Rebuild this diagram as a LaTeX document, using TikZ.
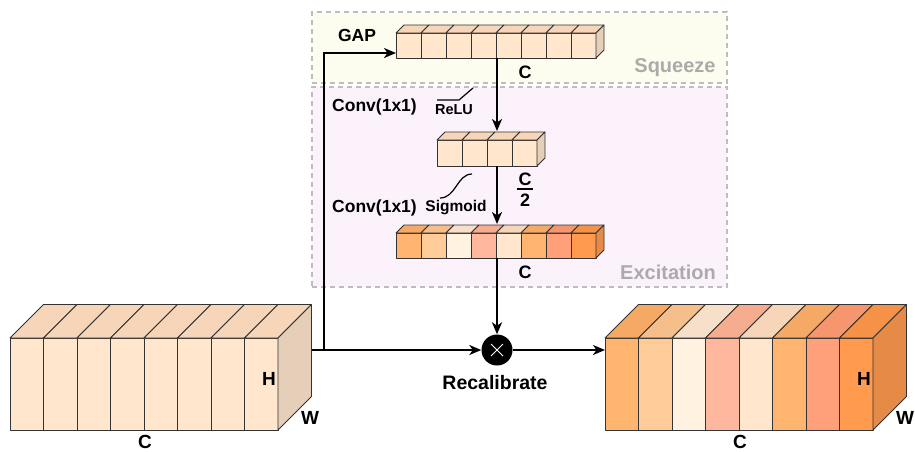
\documentclass[tikz,border=0pt]{standalone}
\usepackage{fontspec}
\setmainfont{Liberation Sans}
\usetikzlibrary{arrows.meta,fit}
\definecolor{lc}{HTML}{FFE6CC}
\definecolor{sa}{HTML}{FFB570}
\definecolor{sb}{HTML}{FFCC99}
\definecolor{sc}{HTML}{FFF2E0}
\definecolor{sd}{HTML}{FFB89E}
\definecolor{se}{HTML}{FFE6CC}
\definecolor{sf}{HTML}{FFB570}
\definecolor{sg}{HTML}{FFA07A}
\definecolor{sh}{HTML}{FF9A4F}
\definecolor{topmix}{HTML}{A53C04}
\definecolor{sqfill}{HTML}{FCFCEF}
\definecolor{exfill}{HTML}{FCF2FC}
\definecolor{boxgray}{HTML}{BDBDBD}
\definecolor{labgray}{HTML}{ABABAB}
\newcommand\mycube[9]{%
  \foreach \c [count=\i from 0] in {#9}{%
    \pgfmathsetmacro\xa{#1+\i*#3/#6}%
    \pgfmathsetmacro\xb{#1+(\i+1)*#3/#6}%
    \draw[cubeline, fill=\c] (\xa,#2) rectangle (\xb,#2+#4);
    \draw[cubeline, fill=\c!90!topmix] (\xa,#2) -- (\xa+#5,#2-#5) -- (\xb+#5,#2-#5) -- (\xb,#2) -- cycle;
  }
  \draw[cubeline, fill=#8!90!black] (#1+#3,#2) -- (#1+#3+#5,#2-#5) -- (#1+#3+#5,#2+#4-#5) -- (#1+#3,#2+#4) -- cycle;
  \node[inner sep=0pt, fit={(#1,#2) (#1+#3,#2+#4)}] (#7) {};
}
\begin{document}
\begin{tikzpicture}[x=1pt,y=-1pt,
  cubeline/.style={draw=black!80, line width=0.8pt, line join=round},
  arr/.style={line width=2pt, -{Stealth[length=12pt,width=10pt,inset=3.5pt]}},
  plain/.style={line width=2pt},
  stagebox/.style={draw=boxgray, line width=1.2pt, dash pattern=on 5pt off 4pt},
  lab/.style={font=\fontsize{18}{20}\selectfont\bfseries, inner sep=0pt},
  stage/.style={font=\fontsize{20}{22}\selectfont\bfseries, text=labgray, inner sep=0pt}]
\useasboundingbox (0,0) rectangle (915,451);
% stage boxes
\node[stagebox, fill=sqfill, inner sep=0pt, fit={(312,12) (727,83)}] (sqbox) {};
\node[stagebox, fill=exfill, inner sep=0pt, fit={(312,87) (727,287)}] (exbox) {};
% cubes
\mycube{10}{338}{268}{92}{33.5}{8}{inblk}{lc}{lc,lc,lc,lc,lc,lc,lc,lc}
\mycube{605}{338}{268}{92}{33.5}{8}{outblk}{sh}{sa,sb,sc,sd,se,sf,sg,sh}
\mycube{396}{33}{200}{25}{8}{8}{gap}{lc}{lc,lc,lc,lc,lc,lc,lc,lc}
\mycube{437}{140}{100}{26}{8}{4}{mid}{lc}{lc,lc,lc,lc}
\mycube{396}{233}{200}{25}{8}{8}{exc}{sh}{sa,sb,sc,sd,se,sf,sg,sh}
% recalibrate node
\node[circle, fill=black, minimum size=31pt, inner sep=0pt] (mul) at (497,350) {};
\draw[white, line width=1pt] ([shift={(-6,-6)}]mul.center) -- ([shift={(6,6)}]mul.center)
  ([shift={(-6,6)}]mul.center) -- ([shift={(6,-6)}]mul.center);
% connectors
\coordinate (lout) at (312,350);
\coordinate (split) at (324,350);
\coordinate (gapin) at (396,53);
\coordinate (gapout) at (497,58);
\coordinate (midin) at (497,131);
\coordinate (midout) at (497,166);
\coordinate (excin) at (497,224);
\coordinate (excout) at (497,258);
\coordinate (outin) at (605,350);
\draw[plain] (lout) -- (split);
\draw[arr] (split) -- (mul.west);
\draw[arr] (split) |- (gapin);
\draw[arr] (gapout) -- (midin);
\draw[arr] (midout) -- (excin);
\draw[arr] (excout) -- (mul.north);
\draw[arr] (mul.east) -- (outin);
% activation icons
\draw[line width=1.2pt] (437,100) -- (459,100) -- (473,88);
\draw[line width=1.2pt] (440,198) .. controls (456,198) and (457,174) .. (472,174);
% labels
\node[lab, font=\fontsize{17.5}{20}\selectfont\bfseries] (tgap) at (357,35) {GAP};
\node[lab] (tc1) at (525,72) {C};
\node[stage] (tsq) at (675,68) {Squeeze};
\node[lab, font=\fontsize{17.5}{20}\selectfont\bfseries] (tconv1) at (374.5,107) {Conv(1x1)};
\node[lab, font=\fontsize{14.5}{16}\selectfont\bfseries] (trelu) at (454,110) {ReLU};
\node[lab] (tc2a) at (525,179) {C};
\draw[line width=1.6pt] (517,189) -- (533,189);
\node[lab] (tc2b) at (525,200) {2};
\node[lab, font=\fontsize{17.5}{20}\selectfont\bfseries] (tconv2) at (374.5,208) {Conv(1x1)};
\node[lab, font=\fontsize{15.5}{18}\selectfont\bfseries] (tsig) at (456,208) {Sigmoid};
\node[lab] (tc3) at (525,272) {C};
\node[stage] (tex) at (668,272) {Excitation};
\node[lab, font=\fontsize{19.5}{22}\selectfont\bfseries] (trec) at (495,383) {Recalibrate};
\node[lab, font=\fontsize{19}{22}\selectfont\bfseries] (th1) at (269,379) {H};
\node[lab, font=\fontsize{19}{22}\selectfont\bfseries] (tw1) at (310,418) {W};
\node[lab, font=\fontsize{19}{22}\selectfont\bfseries] (tcc1) at (145,442) {C};
\node[lab, font=\fontsize{19}{22}\selectfont\bfseries] (th2) at (864,379) {H};
\node[lab, font=\fontsize{19}{22}\selectfont\bfseries] (tw2) at (905,418) {W};
\node[lab, font=\fontsize{19}{22}\selectfont\bfseries] (tcc2) at (740,442) {C};
\end{tikzpicture}
\end{document}
